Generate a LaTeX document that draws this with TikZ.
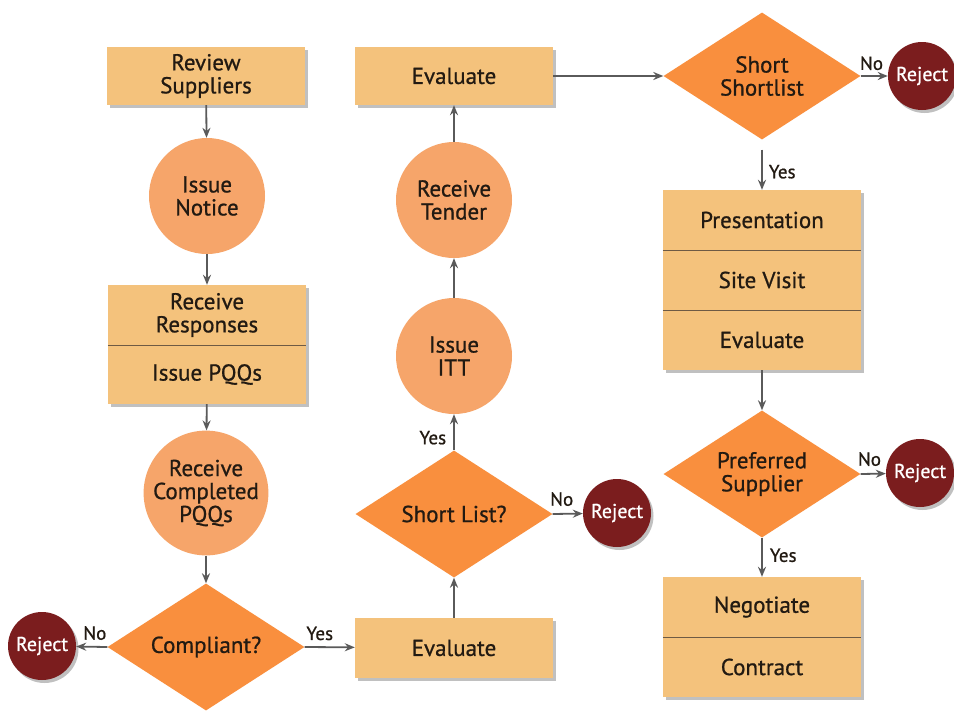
\documentclass[tikz,border=0pt]{standalone}
\usepackage{fontspec}
\setmainfont{PT Sans}[FakeBold=0.8]
\usetikzlibrary{shapes.geometric,arrows.meta,shadows}
\definecolor{boxfill}{HTML}{F4C27C}
\definecolor{circfill}{HTML}{F6A56A}
\definecolor{diafill}{HTML}{F98F3E}
\definecolor{rejfill}{HTML}{7B1D1E}
\definecolor{arrowc}{HTML}{5A5A5A}
\definecolor{divc}{HTML}{6E5A44}
\definecolor{txt}{HTML}{221A12}
\tikzset{
  x=1pt, y=-1pt,
  shd/.style={drop shadow={shadow xshift=2.5pt, shadow yshift=-3pt, opacity=0.35, fill=black!70}},
  boxnode/.style={rectangle, fill=boxfill, minimum width=198pt, inner sep=0pt, align=center,
    text=txt, font=\fontsize{23}{23}\selectfont, shd},
  circnode/.style={circle, fill=circfill, minimum size=116pt, inner sep=0pt, align=center,
    text=txt, font=\fontsize{23}{23}\selectfont},
  dianode/.style={diamond, fill=diafill, aspect=1.55, minimum width=197pt, minimum height=127pt,
    inner sep=0pt, align=center, text=txt, font=\fontsize{23}{23}\selectfont},
  rejnode/.style={circle, fill=rejfill, minimum size=68pt, inner sep=0pt, text=white,
    font=\fontsize{20}{20}\selectfont, shd},
  arr/.style={draw=arrowc, line width=1.8pt, -{Stealth[length=10pt,width=8pt]}},
  lbl/.style={text=txt, font=\fontsize{19}{19}\selectfont, inner sep=0pt},
  divline/.style={draw=divc, line width=1pt}
}
\begin{document}
\begin{tikzpicture}
\useasboundingbox (0,0) rectangle (954,713);
\fill[white] (0,0) rectangle (954,713);

% column 1
\node[boxnode, minimum height=58pt] (rs) at (206,76) {Review\\Suppliers};
\node[circnode] (in) at (207,196) {Issue\\Notice};
\node[boxnode, minimum height=60pt] (rr) at (207,315) {Receive\\Responses};
\node[boxnode, minimum height=59pt] (ip) at (207,374.5) {Issue PQQs};
\draw[divline] (rr.south west) -- (rr.south east);
\node[circnode] (rc) at (206,493) {Receive\\Completed\\PQQs};
\node[dianode] (cp) at (206,647) {Compliant?};
\node[rejnode] (rj1) at (42,646) {Reject};

% column 2
\node[boxnode, minimum height=60pt] (ev2) at (454,648) {Evaluate};
\node[dianode] (sl) at (454,514) {Short List?};
\node[rejnode] (rj2) at (617,513) {Reject};
\node[circnode] (itt) at (454,356) {Issue\\ITT};
\node[circnode] (rt) at (454,200) {Receive\\Tender};
\node[boxnode, minimum height=58pt] (ev1) at (454,76) {Evaluate};

% column 3
\node[dianode] (ss) at (762,76) {Short\\Shortlist};
\node[rejnode] (rj3) at (922,76) {Reject};
\node[boxnode, minimum height=60pt] (pr) at (762,220) {Presentation};
\node[boxnode, minimum height=60pt] (sv) at (762,280) {Site Visit};
\node[boxnode, minimum height=60pt] (ev3) at (762,340) {Evaluate};
\draw[divline] (pr.south west) -- (pr.south east);
\draw[divline] (sv.south west) -- (sv.south east);
\node[dianode] (ps) at (762,474) {Preferred\\Supplier};
\node[rejnode] (rj4) at (920,473) {Reject};
\node[boxnode, minimum height=60pt] (ng) at (762,607) {Negotiate};
\node[boxnode, minimum height=60pt] (ct) at (762,667) {Contract};
\draw[divline] (ng.south west) -- (ng.south east);

% connectors
\draw[arr] (rs) -- (in);
\draw[arr] (in) -- (rr);
\draw[arr] (ip) -- (rc);
\draw[arr] (rc) -- (cp);
\draw[arr] (cp.west) -- node[lbl, above=6pt, pos=0.4] {No} (rj1);
\draw[arr] (cp.east) -- node[lbl, above=6pt, pos=0.3] {Yes} (ev2);
\draw[arr] (ev2) -- (sl);
\draw[arr] (sl.east) -- node[lbl, above=7pt, pos=0.3] {No} (rj2);
\draw[arr] (sl.north) -- node[lbl, left=7pt, pos=0.35] {Yes} (itt);
\draw[arr] (itt) -- (rt);
\draw[arr] (rt) -- (ev1);
\draw[arr] (ev1) -- (ss);
\draw[arr] (ss.east) -- node[lbl, above=5pt, pos=0.4] {No} (rj3);
\draw[arr] ([yshift=-10pt]ss.south) -- node[lbl, right=6pt, pos=0.55] {Yes} (pr);
\draw[arr] (ev3) -- (ps);
\draw[arr] (ps.east) -- node[lbl, above=7pt, pos=0.35] {No} (rj4);
\draw[arr] (ps.south) -- node[lbl, right=7pt, pos=0.45] {Yes} (ng);
\end{tikzpicture}
\end{document}
